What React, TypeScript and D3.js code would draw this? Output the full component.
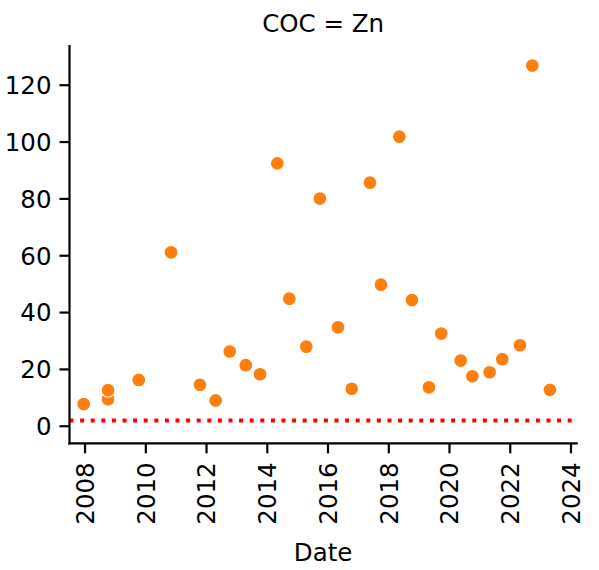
import React, { useEffect, useRef } from "react";
import * as d3 from "d3";

// sample dates and Zn concentrations
const sampleDates = [
    "2007-12-16", "2008-10-04", "2008-10-04", "2009-10-08", "2010-10-31",
    "2011-10-14", "2012-04-20", "2012-10-06", "2013-04-17", "2013-10-06",
    "2014-05-01", "2014-09-23", "2015-04-15", "2015-09-26", "2016-04-30",
    "2016-10-12", "2017-05-20", "2017-09-29", "2018-05-08", "2018-10-07",
    "2019-04-29", "2019-09-24", "2020-05-15", "2020-10-02", "2021-04-28",
    "2021-09-27", "2022-04-28", "2022-09-23", "2023-04-23",
];
const znValues = [
    7.8, 9.5, 12.7, 16.3, 61.2,
    14.6, 9.1, 26.3, 21.5, 18.3,
    92.5, 44.9, 28.0, 80.1, 34.8,
    13.2, 85.7, 49.8, 101.9, 44.4,
    13.7, 32.6, 23.1, 17.6, 19.0,
    23.6, 28.5, 126.9, 12.8,
];
const yTicks = [0, 20, 40, 60, 80, 100, 120];
const xTickYears = [2008, 2010, 2012, 2014, 2016, 2018, 2020, 2022, 2024];
const xLimits = ["2007-06-28", "2024-03-10"];
const threshold = 2;
const title = "COC = Zn";
const xLabel = "Date";

const FONT = "DejaVu Sans, sans-serif";

const App: React.FC = () => {
    const svgRef = useRef<SVGSVGElement | null>(null);

    useEffect(() => {
        if (!svgRef.current) return;
        const svg = d3.select(svgRef.current);
        svg.selectAll("*").remove();

        const width = 599;
        const height = 570;
        const left = 69.5;
        const right = 576.7;
        const top = 46;
        const bottom = 443.3;
        const fontSize = 24.5;

        const parse = d3.timeParse("%Y-%m-%d");
        const data = sampleDates.map((d, i) => ({ date: parse(d) as Date, value: znValues[i] }));

        const x = d3
            .scaleTime()
            .domain(xLimits.map((d) => parse(d) as Date))
            .range([left, right]);

        const y = d3.scaleLinear().domain([-6, 133.8]).range([bottom, top]);

        svg.attr("width", width).attr("height", height);

        // threshold line
        svg.append("line")
            .attr("x1", left)
            .attr("x2", right)
            .attr("y1", y(threshold))
            .attr("y2", y(threshold))
            .attr("stroke", "#ff0000")
            .attr("stroke-width", 4)
            .attr("stroke-dasharray", "4 6.6");

        // points
        svg.append("g")
            .selectAll("circle")
            .data(data)
            .join("circle")
            .attr("cx", (d) => x(d.date))
            .attr("cy", (d) => y(d.value))
            .attr("r", 6.9)
            .attr("fill", "#ff7f0e")
            .attr("stroke", "#ffffff")
            .attr("stroke-width", 1.1);

        // y axis
        const yAxis = svg.append("g").attr("transform", `translate(${left},0)`);
        yAxis.append("line")
            .attr("x1", 0).attr("x2", 0)
            .attr("y1", top).attr("y2", bottom)
            .attr("stroke", "#000").attr("stroke-width", 2.2)
            .attr("stroke-linecap", "square");
        const yt = yAxis.selectAll(".ytick").data(yTicks).join("g")
            .attr("transform", (d) => `translate(0,${y(d)})`);
        yt.append("line").attr("x1", -10).attr("x2", 0)
            .attr("stroke", "#000").attr("stroke-width", 2.2);
        yt.append("text")
            .attr("x", -18)
            .attr("dy", "0.36em")
            .attr("text-anchor", "end")
            .attr("font-family", FONT)
            .attr("font-size", fontSize)
            .attr("fill", "#000")
            .text((d) => d);

        // x axis
        const xAxis = svg.append("g").attr("transform", `translate(0,${bottom})`);
        xAxis.append("line")
            .attr("x1", left).attr("x2", right)
            .attr("stroke", "#000").attr("stroke-width", 2.2)
            .attr("stroke-linecap", "square");
        const xt = xAxis.selectAll(".xtick").data(xTickYears).join("g")
            .attr("transform", (d) => `translate(${x(new Date(d, 0, 1))},0)`);
        xt.append("line").attr("y1", 0).attr("y2", 10)
            .attr("stroke", "#000").attr("stroke-width", 2.2);
        xt.append("text")
            .attr("transform", "translate(0,19) rotate(-90)")
            .attr("dy", "0.36em")
            .attr("text-anchor", "end")
            .attr("font-family", FONT)
            .attr("font-size", fontSize)
            .attr("fill", "#000")
            .text((d) => d);

        // labels
        svg.append("text")
            .attr("x", (left + right) / 2)
            .attr("y", 560.5)
            .attr("text-anchor", "middle")
            .attr("font-family", FONT)
            .attr("font-size", fontSize)
            .attr("fill", "#000")
            .text(xLabel);

        svg.append("text")
            .attr("x", (left + right) / 2)
            .attr("y", 31.5)
            .attr("text-anchor", "middle")
            .attr("font-family", FONT)
            .attr("font-size", fontSize)
            .attr("fill", "#000")
            .text(title);
    }, []);

    return (
        <svg
            ref={svgRef}
            style={{ position: "absolute", left: 0, top: 0, display: "block", background: "#fff" }}
        ></svg>
    );
};

export default App;
